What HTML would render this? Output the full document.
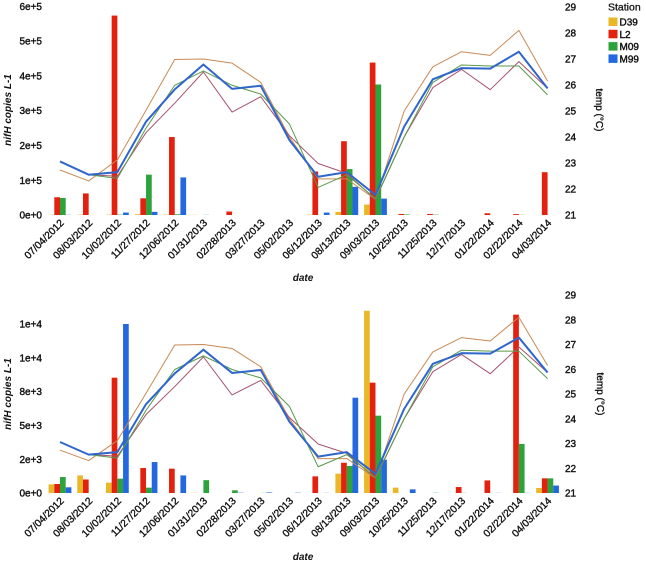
<!DOCTYPE html>
<html>
<head>
<meta charset="utf-8">
<title>nifH copies and temperature by station</title>
<style>
html,body{margin:0;padding:0;background:#fff;width:646px;height:564px;overflow:hidden}
svg{display:block}
text{font-family:"Liberation Sans",sans-serif;fill:#111}
.tick{font-size:10px;stroke:#111;stroke-width:.4px}
.date{font-size:10.2px;stroke:#111;stroke-width:.35px}
.title{font-size:10px;font-weight:bold;font-style:italic}
.ttitle{font-size:10px;stroke:#111;stroke-width:.35px}
</style>
</head>
<body>
<svg id="chart" width="646" height="564" viewBox="0 0 646 564" xmlns="http://www.w3.org/2000/svg"></svg>
<script>
const dates = ["07/04/2012","08/03/2012","10/02/2012","11/27/2012","12/06/2012","01/31/2013","02/28/2013","03/27/2013","05/02/2013","06/12/2013","08/13/2013","09/03/2013","10/25/2013","11/25/2013","12/17/2013","01/22/2014","02/22/2014","04/03/2014"];
const stations = ["D39","L2","M09","M99"];

const topD39 = [500,1000,1000,2000,1000,500,0,0,0,1000,9000,30000,0,0,0,0,0,0];
const topL2 = [51000,62000,573000,48000,224000,0,10000,0,0,125000,212000,438000,3000,3000,0,5000,2500,123000];
const topM09 = [49000,0,1000,116000,2000,500,0,0,0,0,132000,375000,1500,1000,0,0,500,0];
const topM99 = [500,0,7000,9000,108000,0,0,0,0,7000,81000,47000,0,0,0,0,0,0];

const bottomD39 = [640,1300,765,0,0,15,0,0,0,0,1430,13480,395,0,0,0,0,370];
const bottomL2 = [665,1000,8530,1850,1800,0,0,0,0,1230,2240,8160,0,0,440,930,13190,1085];
const bottomM09 = [1180,0,1060,395,0,950,200,10,0,0,2000,5720,0,15,10,0,3630,1085];
const bottomM99 = [420,0,12500,2290,1300,0,20,40,20,10,7050,2465,270,0,0,10,10,550];

const tempOrange = [22.73,22.31,23.12,25.03,26.98,27.0,26.84,26.1,24.0,22.39,22.39,21.6,25.0,26.7,27.28,27.14,28.1,26.15];
const tempPurple = [null,22.55,22.49,24.17,25.3,26.5,24.96,25.55,24.05,22.98,22.6,21.6,24.0,25.9,26.6,25.82,26.9,25.87];
const tempGreen = [null,22.55,22.41,24.34,25.99,26.54,25.99,25.65,24.5,22.06,22.55,21.63,24.0,26.1,26.77,26.73,26.73,25.62];
const tempBlue = [23.06,22.55,22.65,24.59,25.83,26.79,25.85,25.97,23.88,22.47,22.65,21.77,24.4,26.22,26.65,26.63,27.28,25.87];

const topTickValues = [0,100000,200000,300000,400000,500000,600000];
const topTickLabels = ["0e+0","1e+5","2e+5","3e+5","4e+5","5e+5","6e+5"];
const bottomTickValues = [0,2500,5000,7500,10000,12500];
const bottomTickLabels = ["0e+0","2e+3","5e+3","8e+3","1e+4","1e+4"];
const tempTicks = [21,22,23,24,25,26,27,28,29];

const barColors = ["#e9b829","#e2210f","#2ca33b","#2368de"];
const lineColors = ["#c98a55","#a5536c","#5b9a4c","#2f66cc"];
const lineWidths = [1,1,1,2];

const svg = document.getElementById('chart');
const NS = 'http://www.w3.org/2000/svg';

function make(tag, attrs, parent){
  const n = document.createElementNS(NS, tag);
  for (const k in attrs) n.setAttribute(k, attrs[k]);
  parent.appendChild(n);
  return n;
}
function xPos(i){ return 60 + i * 28.68; }

function drawPanel(name, panel, barSeries, tickValues, tickLabels){
  const g = make('g', {}, svg);
  
  
  const yLeft = v => panel.base - v * panel.leftScale;
  const yTemp = t => panel.base - (t - 21) * panel.tempScale;

  barSeries.forEach((vals, s) => {
    vals.forEach((v, i) => {
      if (!v) return;
      const r = make('rect', {
        x: xPos(i) - 11.4 + s * 5.7,
        y: yLeft(v),
        width: 5.7,
        height: panel.base - yLeft(v),
        fill: barColors[s]
      }, g);
      
      
    });
  });

  [tempOrange, tempPurple, tempGreen, tempBlue].forEach((vals, s) => {
    let pts = [];
    vals.forEach((t, i) => { if (t !== null) pts.push(xPos(i) + ',' + yTemp(t)); });
    const l = make('polyline', {
      points: pts.join(' '),
      fill: 'none',
      stroke: lineColors[s],
      'stroke-width': lineWidths[s],
      'stroke-linejoin': 'round'
    }, g);
    
    
  });

  tickValues.forEach((v, i) => {
    const t = make('text', {x: 42, y: yLeft(v) + 3.6, 'text-anchor': 'end', class: 'tick'}, g);
    t.textContent = tickLabels[i];
    
    
  });

  tempTicks.forEach(v => {
    const t = make('text', {x: 565, y: yTemp(v) + 3.6, class: 'tick'}, g);
    t.textContent = v;
    
    
  });

  dates.forEach((d, i) => {
    const x = xPos(i) + 4.5, y = panel.dateY;
    const t = make('text', {x: x, y: y, 'text-anchor': 'end', class: 'date', transform: 'rotate(-45 ' + x + ' ' + y + ')'}, g);
    t.textContent = d;
    
    
  });

  const yt = make('text', {x: 11, y: panel.titleY, 'text-anchor': 'middle', class: 'title', transform: 'rotate(-90 11 ' + panel.titleY + ')'}, g);
  yt.textContent = 'nifH copies L-1';
  
  

  const tx = panel.tempTitleX;
  const tt = make('text', {x: tx, y: panel.titleY, 'text-anchor': 'middle', class: 'ttitle', transform: 'rotate(90 ' + tx + ' ' + panel.titleY + ')'}, g);
  tt.textContent = 'temp (°C)';
  
  

  const xt = make('text', {x: 303, y: panel.xTitleY, 'text-anchor': 'middle', class: 'title'}, g);
  xt.textContent = 'date';
  
  
}

drawPanel('top', {base: 215, leftScale: 34.8 / 100000, tempScale: 26, dateY: 223.5, titleY: 110, tempTitleX: 596, xTitleY: 281},
  [topD39, topL2, topM09, topM99], topTickValues, topTickLabels);
drawPanel('bottom', {base: 493, leftScale: 33.8 / 2500, tempScale: 24.75, dateY: 501.5, titleY: 394, tempTitleX: 597, xTitleY: 560},
  [bottomD39, bottomL2, bottomM09, bottomM99], bottomTickValues, bottomTickLabels);

const legend = make('g', {}, svg);


const legendTitle = make('text', {x: 608, y: 10.5, style: 'font-size:10.5px;stroke:#111;stroke-width:.3px'}, legend);
legendTitle.textContent = 'Station';


stations.forEach((s, i) => {
  const top = 17.5 + i * 12.3;
  const sw = make('rect', {x: 608.5, y: top, width: 9, height: 8.5, fill: barColors[i]}, legend);
  
  
  const t = make('text', {x: 619.5, y: top + 8, class: 'tick'}, legend);
  t.textContent = s;
  
  
});
</script>
</body>
</html>
